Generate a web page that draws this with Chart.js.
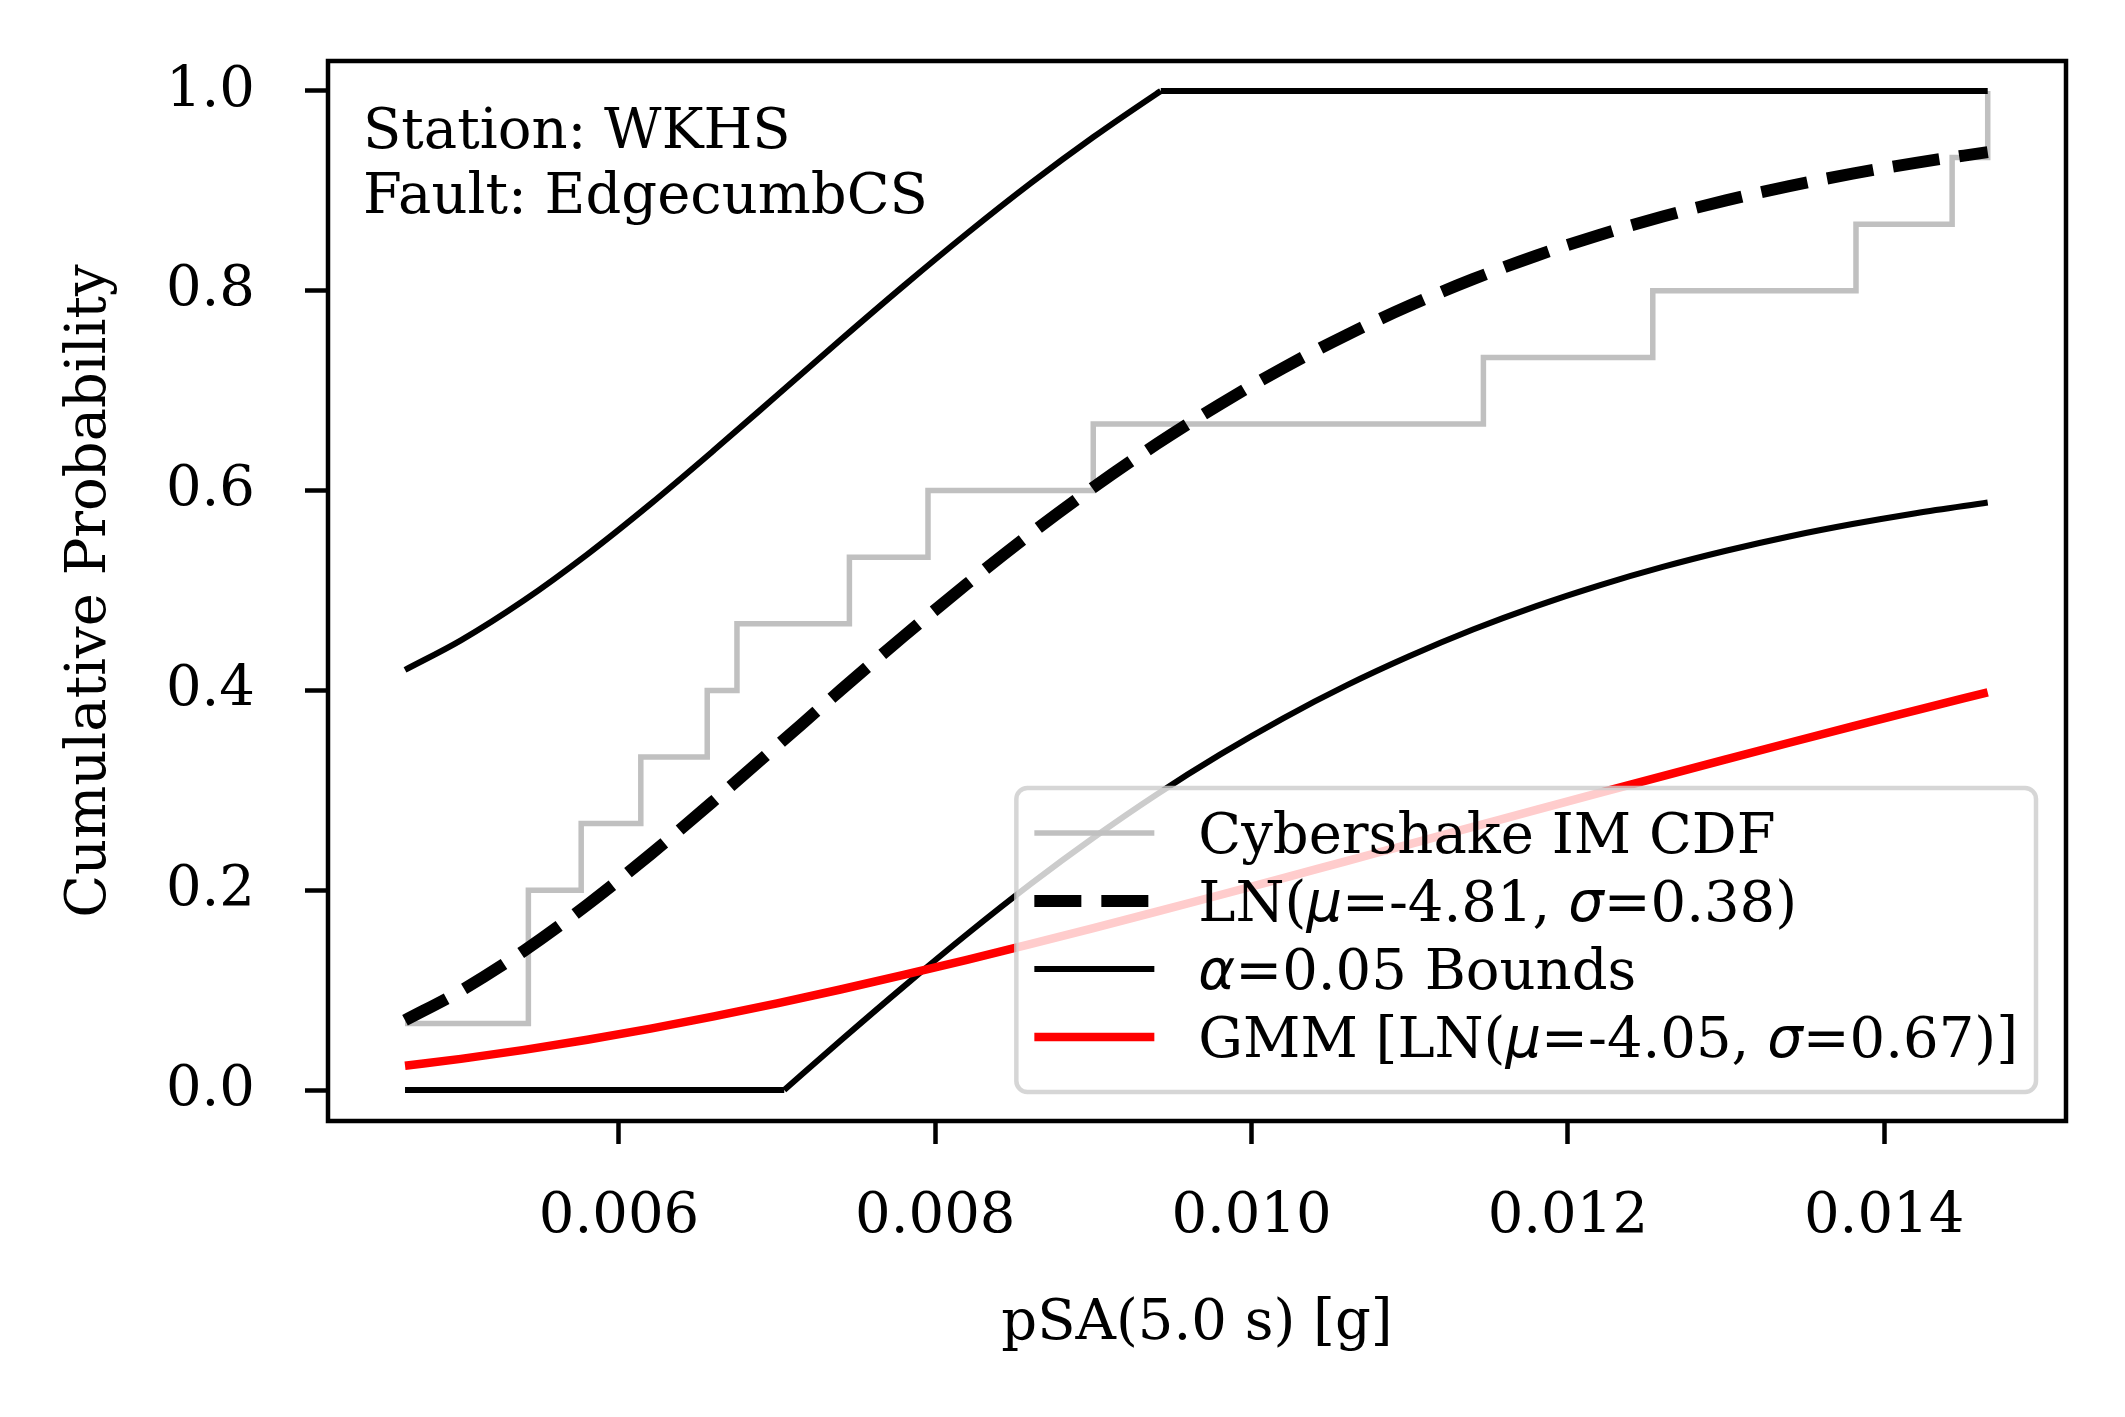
<!DOCTYPE html>
<html>
<head>
<meta charset="utf-8">
<script src="https://cdn.jsdelivr.net/npm/chart.js@4.4.1/dist/chart.umd.min.js"></script>
<style>
  html, body { margin: 0; padding: 0; background: #fff; }
  canvas { display: block; }
</style>
</head>
<body>
<canvas id="mycanvas" width="2125" height="1417"></canvas>
<script>
// empirical CDF (step), 15 samples
var cdfX = [0.004647, 0.005427, 0.005761, 0.006138, 0.006558, 0.006746, 0.007457,
            0.007954, 0.008999, 0.011466, 0.012537, 0.013822, 0.014430, 0.014655];
var cdfY = [0.0667, 0.2, 0.2667, 0.3333, 0.4, 0.4667, 0.5333,
            0.6, 0.6667, 0.7333, 0.8, 0.8667, 0.9333, 1.0];

// fitted lognormal and GMM curves
var fitX = [0.004647, 0.0050, 0.0054, 0.0058, 0.0062, 0.0066, 0.0070, 0.0074, 0.0078,
            0.0082, 0.0086, 0.0090, 0.0094, 0.0098, 0.0102, 0.0106, 0.0110, 0.0114,
            0.0118, 0.0122, 0.0126, 0.0130, 0.0134, 0.0138, 0.0142, 0.014655];
var lnY = [0.0698, 0.0994, 0.1395, 0.1855, 0.2360, 0.2896, 0.3447, 0.4000, 0.4542,
           0.5066, 0.5565, 0.6032, 0.6466, 0.6864, 0.7228, 0.7557, 0.7852, 0.8116,
           0.8351, 0.8559, 0.8743, 0.8905, 0.9048, 0.9172, 0.9281, 0.9388];
var gmmY = [0.0243, 0.0312, 0.0402, 0.0503, 0.0615, 0.0737, 0.0868, 0.1006, 0.1152,
            0.1303, 0.1460, 0.1621, 0.1785, 0.1952, 0.2121, 0.2292, 0.2462, 0.2633,
            0.2804, 0.2974, 0.3143, 0.3310, 0.3476, 0.3640, 0.3800, 0.3981];

// alpha = 0.05 bounds (curved part, then clipped part)
var upperX = [0.004647, 0.0050, 0.0054, 0.0058, 0.0062, 0.0066, 0.0070, 0.0074, 0.0078,
              0.0082, 0.0086, 0.0090, 0.0094, 0.009426];
var upperY = [0.4205, 0.4501, 0.4902, 0.5362, 0.5867, 0.6403, 0.6954, 0.7507, 0.8049,
              0.8573, 0.9072, 0.9539, 0.9973, 1.0];
var upperFlatX = [0.009426, 0.014655];
var upperFlatY = [1.0, 1.0];
var lowerFlatX = [0.004647, 0.007045];
var lowerFlatY = [0, 0];
var lowerX = [0.007045, 0.0074, 0.0078, 0.0082, 0.0086, 0.0090, 0.0094, 0.0098,
              0.0102, 0.0106, 0.0110, 0.0114, 0.0118, 0.0122, 0.0126, 0.0130, 0.0134,
              0.0138, 0.0142, 0.014655];
var lowerY = [0, 0.0493, 0.1035, 0.1559, 0.2058, 0.2525, 0.2959, 0.3357,
              0.3721, 0.4050, 0.4344, 0.4609, 0.4844, 0.5052, 0.5236, 0.5398, 0.5541,
              0.5665, 0.5774, 0.5881];

var xTicks = [0.006, 0.008, 0.010, 0.012, 0.014];
var yTicks = [0.0, 0.2, 0.4, 0.6, 0.8, 1.0];

var infoLines = ["Station: WKHS", "Fault: EdgecumbCS"];

var FONT = "'DejaVu Serif'";
var FS = 56;

function pts(xs, ys) {
    return xs.map(function (x, i) { return { x: x, y: ys[i] }; });
}

// legend entries: text runs, [text, italic]
var legendItems = [
    { runs: [["Cybershake IM CDF", false]], color: "#c0c0c0", width: 5.5, dash: [] },
    { runs: [["LN(", false], ["\u03bc", true], ["=-4.81, ", false], ["\u03c3", true], ["=0.38)", false]],
      color: "#000", width: 12, dash: [47, 20] },
    { runs: [["\u03b1", true], ["=0.05 Bounds", false]], color: "#000", width: 6, dash: [] },
    { runs: [["GMM [LN(", false], ["\u03bc", true], ["=-4.05, ", false], ["\u03c3", true], ["=0.67)]", false]],
      color: "#ff0000", width: 8.5, dash: [] }
];

function runFont(italic) {
    return italic ? "oblique " + FS + "px 'DejaVu Sans'" : FS + "px " + FONT;
}

function runsWidth(ctx, runs) {
    var w = 0;
    runs.forEach(function (r) { ctx.font = runFont(r[1]); w += ctx.measureText(r[0]).width; });
    return w;
}

var decorPlugin = {
    id: 'decor',
    afterDatasetsDraw: function (chart) {
        var ctx = chart.ctx, a = chart.chartArea;
        ctx.save();
        // annotation text
        ctx.fillStyle = "#000";
        ctx.font = FS + "px " + FONT;
        ctx.textAlign = "left";
        ctx.textBaseline = "alphabetic";
        ctx.fillText(infoLines[0], a.left + 35, a.top + 87);
        ctx.fillText(infoLines[1], a.left + 35, a.top + 152);
        // frame
        ctx.strokeStyle = "#000";
        ctx.lineWidth = 4.5;
        ctx.strokeRect(a.left, a.top, a.right - a.left, a.bottom - a.top);
        ctx.restore();
    },
    afterDraw: function (chart) {
        var ctx = chart.ctx, a = chart.chartArea;
        ctx.save();
        var maxW = 0;
        legendItems.forEach(function (it) { maxW = Math.max(maxW, runsWidth(ctx, it.runs)); });
        var w = 18 + 120 + 44 + maxW + 18;
        var h = 45 + 3 * 68 + 55;
        var right = a.right - 30, bottom = a.bottom - 29;
        var left = right - w, top = bottom - h;
        ctx.beginPath();
        ctx.roundRect(left, top, w, h, 11);
        ctx.fillStyle = "rgba(255,255,255,0.8)";
        ctx.fill();
        ctx.strokeStyle = "rgba(204,204,204,0.8)";
        ctx.lineWidth = 4.5;
        ctx.stroke();
        legendItems.forEach(function (it, i) {
            var yc = top + 45 + i * 68;
            ctx.beginPath();
            ctx.setLineDash(it.dash);
            ctx.lineCap = "butt";
            ctx.strokeStyle = it.color;
            ctx.lineWidth = it.width;
            ctx.moveTo(left + 18, yc);
            ctx.lineTo(left + 138, yc);
            ctx.stroke();
            ctx.setLineDash([]);
            var x = left + 182;
            ctx.fillStyle = "#000";
            ctx.textAlign = "left";
            ctx.textBaseline = "alphabetic";
            it.runs.forEach(function (r) {
                ctx.font = runFont(r[1]);
                ctx.fillText(r[0], x, yc + 20);
                x += ctx.measureText(r[0]).width;
            });
        });
        ctx.restore();
    }
};

function curve(label, xs, ys, color, width, order, extra) {
    var ds = {
        label: label,
        data: pts(xs, ys),
        borderColor: color,
        borderWidth: width,
        cubicInterpolationMode: 'monotone',
        pointRadius: 0,
        fill: false,
        order: order
    };
    for (var k in (extra || {})) ds[k] = extra[k];
    return ds;
}

var ctx = document.getElementById("mycanvas").getContext("2d");

var chart = new Chart(ctx, {
    type: 'line',
    data: {
        datasets: [
            curve('GMM', fitX, gmmY, '#ff0000', 8.5, 1),
            curve('Upper bound', upperX, upperY, '#000', 6, 2),
            curve('Upper bound clipped', upperFlatX, upperFlatY, '#000', 6, 2),
            curve('Lower bound clipped', lowerFlatX, lowerFlatY, '#000', 6, 2),
            curve('Lower bound', lowerX, lowerY, '#000', 6, 2),
            curve('LN', fitX, lnY, '#000', 12, 3, { borderDash: [47, 20] }),
            curve('Cybershake IM CDF', cdfX, cdfY, '#c0c0c0', 5.5, 4,
                  { stepped: 'before', cubicInterpolationMode: 'default' })
        ]
    },
    options: {
        responsive: false,
        devicePixelRatio: 1,
        animation: false,
        events: [],
        layout: { padding: { top: 61, right: 59, left: 0, bottom: 0 } },
        plugins: {
            legend: { display: false },
            tooltip: { enabled: false }
        },
        scales: {
            x: {
                type: 'linear',
                min: 0.00416,
                max: 0.01515,
                afterBuildTicks: function (s) { s.ticks = xTicks.map(function (v) { return { value: v }; }); },
                afterFit: function (s) { s.height = 296; s.paddingLeft = 0; s.paddingRight = 0; },
                border: { display: false },
                grid: { drawOnChartArea: false, drawTicks: true, tickLength: 23, tickWidth: 4.5, tickColor: '#000' },
                ticks: {
                    color: '#000',
                    padding: 40,
                    maxRotation: 0,
                    font: { family: FONT, size: FS },
                    callback: function (v) { return Number(v).toFixed(3); }
                },
                title: {
                    display: true,
                    text: 'pSA(5.0 s) [g]',
                    color: '#000',
                    font: { family: FONT, size: FS },
                    padding: { top: 0, bottom: 59 }
                }
            },
            y: {
                type: 'linear',
                min: -0.031,
                max: 1.03,
                afterBuildTicks: function (s) { s.ticks = yTicks.map(function (v) { return { value: v }; }); },
                afterFit: function (s) { s.width = 328; s.paddingTop = 0; s.paddingBottom = 0; },
                border: { display: false },
                grid: { drawOnChartArea: false, drawTicks: true, tickLength: 23, tickWidth: 4.5, tickColor: '#000' },
                ticks: {
                    color: '#000',
                    padding: 50,
                    font: { family: FONT, size: FS },
                    callback: function (v) { return Number(v).toFixed(1); }
                },
                title: {
                    display: true,
                    text: 'Cumulative Probability',
                    color: '#000',
                    font: { family: FONT, size: FS },
                    padding: { top: 57, bottom: 0 }
                }
            }
        }
    },
    plugins: [decorPlugin]
});
</script>
</body>
</html>
